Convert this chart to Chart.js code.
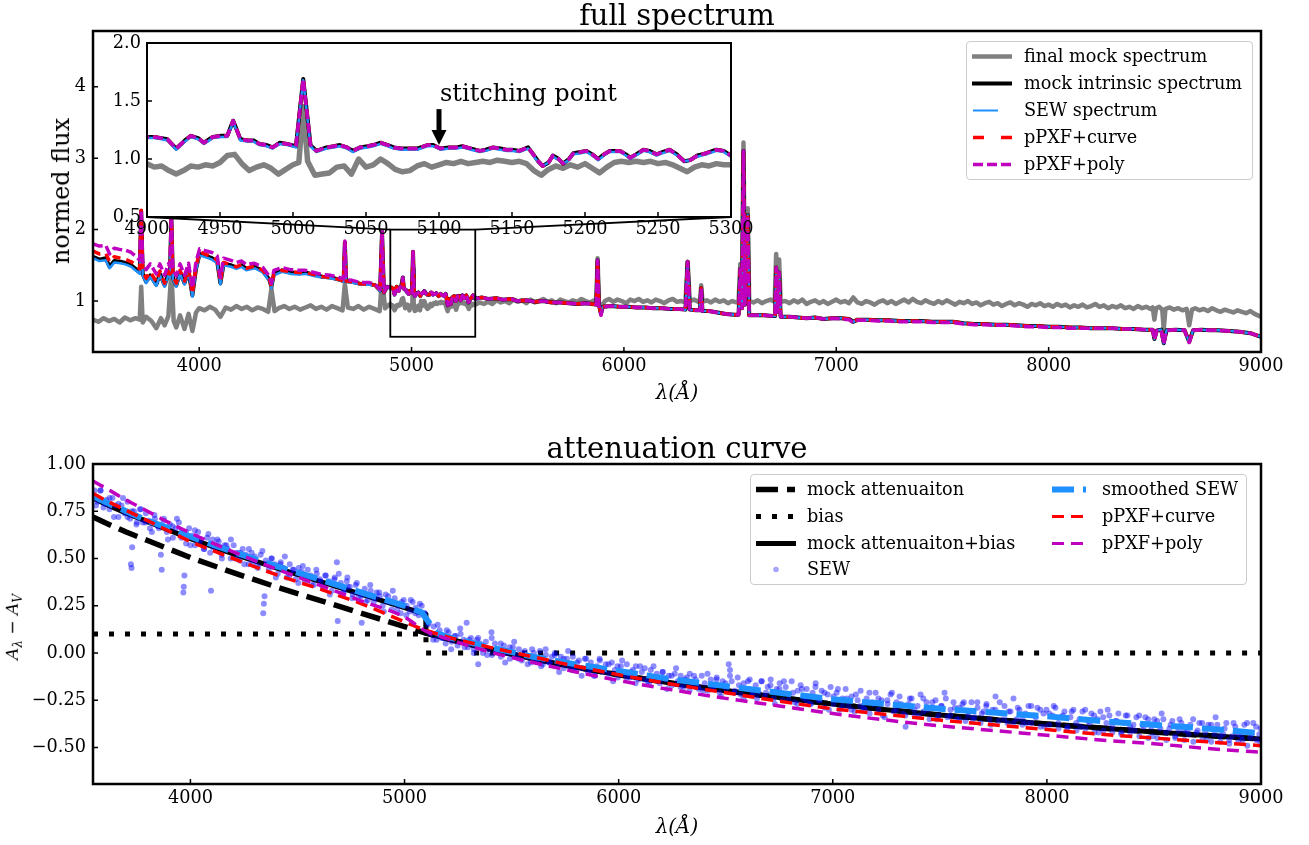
<!DOCTYPE html>
<html>
<head>
<meta charset="utf-8">
<script src="https://cdn.jsdelivr.net/npm/chart.js@4.4.1/dist/chart.umd.min.js"></script>
<style>
  body { margin: 0; background: #fff; }
  #page { position: relative; width: 1309px; height: 845px; overflow: hidden; font-family: 'DejaVu Serif', serif; color: #000; }
  canvas { position: absolute; }
  .txt { position: absolute; white-space: nowrap; }
  .legend { position: absolute; border: 1px solid #cccccc; border-radius: 4px; background: rgba(255,255,255,0.8); box-sizing: border-box; }
  .row { position: absolute; height: 27px; line-height: 27px; font-size: 17.7px; white-space: nowrap; }
  .row svg { position: absolute; top: 0; }
</style>
</head>
<body>
<div id="page">
  <canvas id="topChart" width="1309" height="410" style="left:0;top:0;width:1309px;height:410px"></canvas>
  <canvas id="insetChart" width="654" height="213" style="left:107px;top:33px;width:654px;height:213px"></canvas>
  <canvas id="bottomChart" width="1309" height="425" style="left:0;top:420px;width:1309px;height:425px"></canvas>

  <div class="txt" style="left:677px;top:-3px;font-size:29px;line-height:36px;transform:translateX(-50%)">full spectrum</div>
  <div class="txt" style="left:677px;top:430px;font-size:29px;line-height:36px;transform:translateX(-50%)">attenuation curve</div>
  <div class="txt" style="left:677px;top:380px;font-size:20px;line-height:24px;transform:translateX(-50%);font-style:italic">λ(Å)</div>
  <div class="txt" style="left:677px;top:814px;font-size:20px;line-height:24px;transform:translateX(-50%);font-style:italic">λ(Å)</div>
  <div class="txt" style="left:61px;top:191px;font-size:24px;line-height:28px;transform:translate(-50%,-50%) rotate(-90deg)">normed flux</div>
  <div class="txt" style="left:15px;top:627px;font-size:17px;line-height:20px;transform:translate(-50%,-50%) rotate(-90deg)"><i>A</i><sub style="font-size:12px"><i>λ</i></sub> − <i>A</i><sub style="font-size:12px"><i>V</i></sub></div>

  <div class="legend" style="left:966px;top:41px;width:287px;height:139px">
    <div class="row" style="left:0;top:1px;width:285px">
      <svg width="50" height="27" style="left:5px"><line x1="0" y1="13.5" x2="40" y2="13.5" stroke="#808080" stroke-width="4.5"/></svg>
      <span style="position:absolute;left:57px">final mock spectrum</span></div>
    <div class="row" style="left:0;top:28px;width:285px">
      <svg width="50" height="27" style="left:5px"><line x1="0" y1="13.5" x2="40" y2="13.5" stroke="#000" stroke-width="4"/></svg>
      <span style="position:absolute;left:57px">mock intrinsic spectrum</span></div>
    <div class="row" style="left:0;top:55px;width:285px">
      <svg width="50" height="27" style="left:5px"><line x1="1" y1="13.5" x2="26" y2="13.5" stroke="#1e90ff" stroke-width="2"/></svg>
      <span style="position:absolute;left:57px">SEW spectrum</span></div>
    <div class="row" style="left:0;top:82px;width:285px">
      <svg width="50" height="27" style="left:5px"><line x1="1" y1="13.5" x2="40" y2="13.5" stroke="#ff0000" stroke-width="3.5" stroke-dasharray="11,17"/></svg>
      <span style="position:absolute;left:57px">pPXF+curve</span></div>
    <div class="row" style="left:0;top:109px;width:285px">
      <svg width="50" height="27" style="left:5px"><line x1="1" y1="13.5" x2="40" y2="13.5" stroke="#bf00bf" stroke-width="3.5" stroke-dasharray="10,4"/></svg>
      <span style="position:absolute;left:57px">pPXF+poly</span></div>
  </div>

  <div class="legend" style="left:750px;top:474px;width:497px;height:111px">
    <div class="row" style="left:0;top:1px">
      <svg width="50" height="27" style="left:5px"><line x1="0" y1="13.5" x2="39" y2="13.5" stroke="#000" stroke-width="5.5" stroke-dasharray="22,9"/></svg>
      <span style="position:absolute;left:56px">mock attenuaiton</span></div>
    <div class="row" style="left:0;top:28px">
      <svg width="50" height="27" style="left:5px"><line x1="0" y1="13.5" x2="40" y2="13.5" stroke="#000" stroke-width="5" stroke-dasharray="5,11"/></svg>
      <span style="position:absolute;left:56px">bias</span></div>
    <div class="row" style="left:0;top:55px">
      <svg width="50" height="27" style="left:5px"><line x1="0" y1="13.5" x2="40" y2="13.5" stroke="#000" stroke-width="5"/></svg>
      <span style="position:absolute;left:56px">mock attenuaiton+bias</span></div>
    <div class="row" style="left:0;top:81px">
      <svg width="50" height="27" style="left:5px"><circle cx="20" cy="13.5" r="2.8" fill="rgba(0,0,255,0.35)"/></svg>
      <span style="position:absolute;left:56px">SEW</span></div>
    <div class="row" style="left:0;top:1px">
      <svg width="50" height="27" style="left:301px"><line x1="0" y1="13.5" x2="34" y2="13.5" stroke="#1e90ff" stroke-width="6" stroke-dasharray="22,9"/></svg>
      <span style="position:absolute;left:351px">smoothed SEW</span></div>
    <div class="row" style="left:0;top:28px">
      <svg width="50" height="27" style="left:301px"><line x1="0" y1="13.5" x2="34" y2="13.5" stroke="#ff0000" stroke-width="3" stroke-dasharray="12,7"/></svg>
      <span style="position:absolute;left:351px">pPXF+curve</span></div>
    <div class="row" style="left:0;top:55px">
      <svg width="50" height="27" style="left:301px"><line x1="0" y1="13.5" x2="34" y2="13.5" stroke="#bf00bf" stroke-width="3" stroke-dasharray="12,7"/></svg>
      <span style="position:absolute;left:351px">pPXF+poly</span></div>
  </div>
</div>

<script>
// ---------- full spectrum data (wavelength in Angstrom, normed flux) ----------
const fitWave = [
  3500, 3530, 3560, 3578, 3600, 3630, 3656, 3680, 3704, 3720,
  3727, 3734, 3750, 3770, 3798, 3815, 3837, 3855, 3862, 3869,
  3876, 3892, 3910, 3931, 3950, 3968, 3985, 4002, 4034, 4060,
  4085, 4100, 4115, 4150, 4175, 4200, 4222, 4260, 4300, 4330,
  4340, 4352, 4390, 4430, 4470, 4500, 4540, 4580, 4620, 4660,
  4680, 4686, 4692, 4720, 4760, 4800, 4830, 4852, 4861, 4870,
  4885, 4900, 4905, 4910, 4914, 4920, 4926, 4930, 4935, 4939,
  4945, 4951, 4955, 4959, 4964, 4969, 4973, 4977, 4982, 4986,
  4991, 4996, 5002, 5007, 5012, 5016, 5023, 5028, 5032, 5037,
  5041, 5046, 5051, 5055, 5060, 5065, 5069, 5074, 5078, 5085,
  5092, 5096, 5101, 5107, 5112, 5116, 5122, 5128, 5132, 5137,
  5142, 5146, 5150, 5155, 5161, 5164, 5168, 5171, 5175, 5178,
  5182, 5185, 5189, 5192, 5197, 5201, 5205, 5209, 5213, 5217,
  5221, 5224, 5228, 5231, 5235, 5240, 5244, 5249, 5253, 5258,
  5263, 5268, 5272, 5277, 5280, 5283, 5290, 5295, 5300, 5330,
  5360, 5400, 5430, 5470, 5500, 5540, 5580, 5620, 5660, 5700,
  5740, 5780, 5820, 5850, 5870, 5876, 5882, 5892, 5900, 5940,
  5980, 6020, 6060, 6100, 6140, 6180, 6220, 6260, 6290, 6300,
  6310, 6340, 6358, 6364, 6370, 6400, 6440, 6480, 6520, 6540,
  6548, 6556, 6563, 6570, 6583, 6590, 6620, 6660, 6700, 6712,
  6717, 6724, 6731, 6738, 6780, 6820, 6860, 6900, 6940, 6980,
  7020, 7060, 7080, 7100, 7150, 7200, 7250, 7300, 7350, 7400,
  7450, 7500, 7550, 7600, 7650, 7700, 7750, 7800, 7850, 7900,
  7950, 8000, 8050, 8100, 8150, 8200, 8250, 8300, 8350, 8400,
  8450, 8490, 8498, 8510, 8530, 8542, 8555, 8600, 8640, 8662,
  8680, 8720, 8760, 8800, 8850, 8900, 8950, 9000
];

const intrinsicFlux = [
  1.62, 1.58, 1.60, 1.48, 1.56, 1.55, 1.53, 1.50, 1.44, 1.40,
  2.26, 1.38, 1.27, 1.36, 1.23, 1.38, 1.22, 1.38, 1.35, 2.16,
  1.33, 1.22, 1.40, 1.25, 1.42, 1.08, 1.45, 1.66, 1.63, 1.60,
  1.55, 1.25, 1.52, 1.50, 1.47, 1.50, 1.45, 1.48, 1.42, 1.30,
  1.20, 1.38, 1.43, 1.40, 1.39, 1.40, 1.37, 1.34, 1.33, 1.30,
  1.28, 1.82, 1.28, 1.27, 1.24, 1.24, 1.22, 1.15, 1.97, 1.12,
  1.20, 1.19, 1.19, 1.18, 1.17, 1.09, 1.16, 1.20, 1.18, 1.14,
  1.19, 1.20, 1.20, 1.33, 1.17, 1.16, 1.16, 1.13, 1.12, 1.10,
  1.14, 1.13, 1.11, 1.69, 1.12, 1.07, 1.10, 1.11, 1.12, 1.10,
  1.07, 1.10, 1.11, 1.12, 1.14, 1.12, 1.10, 1.09, 1.09, 1.09,
  1.12, 1.12, 1.09, 1.10, 1.10, 1.11, 1.09, 1.07, 1.08, 1.10,
  1.09, 1.08, 1.08, 1.07, 1.10, 1.05, 0.98, 0.94, 0.97, 1.03,
  1.00, 0.96, 1.00, 1.05, 1.06, 1.07, 1.04, 1.00, 1.04, 1.07,
  1.07, 1.07, 1.04, 1.01, 1.04, 1.08, 1.07, 1.04, 1.06, 1.08,
  1.04, 0.98, 0.99, 1.03, 1.04, 1.05, 1.08, 1.07, 1.03, 1.05,
  1.03, 1.04, 1.02, 1.03, 1.00, 1.01, 0.99, 1.00, 0.98, 0.98,
  0.97, 0.96, 0.97, 0.96, 0.95, 1.57, 0.95, 0.82, 0.92, 0.93,
  0.92, 0.92, 0.91, 0.91, 0.90, 0.90, 0.89, 0.89, 0.88, 1.55,
  0.88, 0.87, 0.87, 1.18, 0.86, 0.86, 0.84, 0.82, 0.81, 0.81,
  1.45, 0.90, 3.10, 0.95, 2.20, 0.80, 0.80, 0.80, 0.79, 0.79,
  1.47, 0.85, 1.40, 0.78, 0.78, 0.77, 0.76, 0.77, 0.75, 0.76,
  0.76, 0.75, 0.71, 0.74, 0.74, 0.73, 0.73, 0.72, 0.72, 0.72,
  0.71, 0.71, 0.71, 0.69, 0.68, 0.68, 0.67, 0.67, 0.66, 0.65,
  0.65, 0.64, 0.64, 0.63, 0.63, 0.62, 0.62, 0.62, 0.61, 0.61,
  0.60, 0.60, 0.47, 0.59, 0.60, 0.41, 0.59, 0.60, 0.59, 0.43,
  0.59, 0.60, 0.59, 0.59, 0.58, 0.57, 0.55, 0.50
];

const sewFlux = [
  1.60, 1.56, 1.57, 1.46, 1.54, 1.53, 1.51, 1.48, 1.42, 1.38,
  2.25, 1.36, 1.25, 1.34, 1.21, 1.36, 1.20, 1.36, 1.33, 2.15,
  1.31, 1.20, 1.38, 1.23, 1.40, 1.06, 1.43, 1.64, 1.61, 1.58,
  1.53, 1.23, 1.50, 1.48, 1.45, 1.48, 1.43, 1.46, 1.40, 1.28,
  1.18, 1.36, 1.41, 1.38, 1.37, 1.38, 1.35, 1.33, 1.32, 1.29,
  1.27, 1.81, 1.27, 1.26, 1.23, 1.23, 1.21, 1.14, 1.96, 1.11,
  1.19, 1.18, 1.18, 1.17, 1.16, 1.08, 1.15, 1.19, 1.17, 1.13,
  1.18, 1.19, 1.19, 1.32, 1.16, 1.15, 1.15, 1.12, 1.11, 1.09,
  1.13, 1.12, 1.10, 1.68, 1.11, 1.06, 1.09, 1.10, 1.11, 1.09,
  1.06, 1.09, 1.10, 1.11, 1.13, 1.11, 1.09, 1.08, 1.08, 1.08,
  1.11, 1.11, 1.08, 1.09, 1.09, 1.10, 1.08, 1.06, 1.07, 1.09,
  1.08, 1.07, 1.07, 1.06, 1.09, 1.04, 0.97, 0.94, 0.97, 1.02,
  0.99, 0.96, 0.99, 1.04, 1.05, 1.06, 1.03, 0.99, 1.03, 1.06,
  1.06, 1.06, 1.03, 1.00, 1.03, 1.07, 1.06, 1.03, 1.05, 1.07,
  1.03, 0.98, 0.99, 1.02, 1.03, 1.04, 1.07, 1.06, 1.02, 1.04,
  1.03, 1.04, 1.02, 1.03, 1.00, 1.01, 0.99, 1.00, 0.98, 0.98,
  0.97, 0.96, 0.97, 0.96, 0.95, 1.57, 0.95, 0.82, 0.92, 0.93,
  0.92, 0.92, 0.91, 0.91, 0.90, 0.90, 0.89, 0.89, 0.88, 1.55,
  0.88, 0.87, 0.87, 1.18, 0.86, 0.86, 0.84, 0.82, 0.81, 0.81,
  1.45, 0.90, 3.10, 0.95, 2.20, 0.80, 0.80, 0.80, 0.79, 0.79,
  1.47, 0.85, 1.40, 0.78, 0.78, 0.77, 0.76, 0.77, 0.75, 0.76,
  0.76, 0.75, 0.71, 0.74, 0.74, 0.73, 0.73, 0.72, 0.72, 0.72,
  0.71, 0.71, 0.71, 0.69, 0.68, 0.68, 0.67, 0.67, 0.66, 0.65,
  0.65, 0.64, 0.64, 0.63, 0.63, 0.62, 0.62, 0.62, 0.61, 0.61,
  0.60, 0.60, 0.47, 0.59, 0.60, 0.41, 0.59, 0.60, 0.59, 0.43,
  0.59, 0.60, 0.59, 0.59, 0.58, 0.57, 0.55, 0.50
];

const curveFlux = [
  1.70, 1.66, 1.67, 1.55, 1.62, 1.60, 1.58, 1.55, 1.50, 1.45,
  2.27, 1.43, 1.32, 1.41, 1.27, 1.42, 1.25, 1.42, 1.38, 2.17,
  1.36, 1.25, 1.43, 1.28, 1.45, 1.10, 1.48, 1.69, 1.65, 1.62,
  1.57, 1.27, 1.54, 1.51, 1.48, 1.51, 1.46, 1.49, 1.43, 1.31,
  1.21, 1.39, 1.43, 1.41, 1.40, 1.40, 1.37, 1.34, 1.33, 1.30,
  1.28, 1.82, 1.28, 1.27, 1.24, 1.24, 1.22, 1.15, 1.97, 1.12,
  1.20, 1.19, 1.19, 1.18, 1.17, 1.09, 1.16, 1.20, 1.18, 1.14,
  1.19, 1.20, 1.20, 1.33, 1.17, 1.16, 1.16, 1.13, 1.12, 1.10,
  1.14, 1.13, 1.11, 1.69, 1.12, 1.07, 1.10, 1.11, 1.12, 1.10,
  1.07, 1.10, 1.11, 1.12, 1.14, 1.12, 1.10, 1.09, 1.09, 1.09,
  1.12, 1.12, 1.09, 1.10, 1.10, 1.11, 1.09, 1.07, 1.08, 1.10,
  1.09, 1.08, 1.08, 1.07, 1.10, 1.05, 0.98, 0.94, 0.97, 1.03,
  1.00, 0.96, 1.00, 1.05, 1.06, 1.07, 1.04, 1.00, 1.04, 1.07,
  1.07, 1.07, 1.04, 1.01, 1.04, 1.08, 1.07, 1.04, 1.06, 1.08,
  1.04, 0.98, 0.99, 1.03, 1.04, 1.05, 1.08, 1.07, 1.03, 1.05,
  1.03, 1.04, 1.02, 1.03, 1.00, 1.01, 0.99, 1.00, 0.98, 0.98,
  0.97, 0.96, 0.97, 0.96, 0.95, 1.57, 0.95, 0.82, 0.92, 0.93,
  0.92, 0.92, 0.91, 0.91, 0.90, 0.90, 0.89, 0.89, 0.88, 1.55,
  0.88, 0.87, 0.87, 1.18, 0.86, 0.86, 0.84, 0.82, 0.81, 0.81,
  1.45, 0.90, 3.10, 0.95, 2.20, 0.80, 0.80, 0.80, 0.79, 0.79,
  1.47, 0.85, 1.40, 0.78, 0.78, 0.77, 0.76, 0.77, 0.75, 0.76,
  0.76, 0.75, 0.71, 0.74, 0.74, 0.73, 0.73, 0.72, 0.72, 0.72,
  0.71, 0.71, 0.71, 0.69, 0.68, 0.68, 0.67, 0.67, 0.66, 0.65,
  0.65, 0.64, 0.64, 0.63, 0.63, 0.62, 0.62, 0.62, 0.61, 0.61,
  0.60, 0.60, 0.47, 0.59, 0.60, 0.41, 0.59, 0.60, 0.59, 0.43,
  0.59, 0.60, 0.59, 0.59, 0.58, 0.57, 0.55, 0.50
];

const polyFlux = [
  1.80, 1.77, 1.78, 1.66, 1.74, 1.72, 1.71, 1.68, 1.62, 1.57,
  2.28, 1.55, 1.44, 1.52, 1.38, 1.52, 1.36, 1.52, 1.48, 2.20,
  1.46, 1.35, 1.52, 1.36, 1.53, 1.18, 1.55, 1.73, 1.70, 1.68,
  1.63, 1.33, 1.60, 1.57, 1.54, 1.56, 1.51, 1.53, 1.47, 1.35,
  1.25, 1.43, 1.47, 1.44, 1.43, 1.43, 1.40, 1.37, 1.36, 1.33,
  1.31, 1.84, 1.30, 1.29, 1.26, 1.26, 1.23, 1.16, 1.98, 1.13,
  1.20, 1.19, 1.19, 1.18, 1.17, 1.09, 1.16, 1.20, 1.18, 1.14,
  1.19, 1.20, 1.20, 1.33, 1.17, 1.16, 1.16, 1.13, 1.12, 1.10,
  1.14, 1.13, 1.11, 1.69, 1.12, 1.07, 1.10, 1.11, 1.12, 1.10,
  1.07, 1.10, 1.11, 1.12, 1.14, 1.12, 1.10, 1.09, 1.09, 1.09,
  1.12, 1.12, 1.09, 1.10, 1.10, 1.11, 1.09, 1.07, 1.08, 1.10,
  1.09, 1.08, 1.08, 1.07, 1.10, 1.05, 0.98, 0.94, 0.97, 1.03,
  1.00, 0.96, 1.00, 1.05, 1.06, 1.07, 1.04, 1.00, 1.04, 1.07,
  1.07, 1.07, 1.04, 1.01, 1.04, 1.08, 1.07, 1.04, 1.06, 1.08,
  1.04, 0.98, 0.99, 1.03, 1.04, 1.05, 1.08, 1.07, 1.03, 1.05,
  1.03, 1.04, 1.02, 1.03, 1.00, 1.01, 0.99, 1.00, 0.98, 0.98,
  0.97, 0.96, 0.97, 0.96, 0.95, 1.57, 0.95, 0.80, 0.92, 0.93,
  0.92, 0.92, 0.91, 0.91, 0.90, 0.90, 0.89, 0.89, 0.88, 1.55,
  0.88, 0.87, 0.87, 1.18, 0.86, 0.86, 0.84, 0.82, 0.81, 0.81,
  1.45, 0.90, 3.10, 0.95, 2.20, 0.80, 0.80, 0.80, 0.79, 0.79,
  1.47, 0.85, 1.40, 0.78, 0.78, 0.77, 0.76, 0.77, 0.75, 0.76,
  0.75, 0.74, 0.70, 0.73, 0.73, 0.72, 0.72, 0.71, 0.71, 0.71,
  0.70, 0.70, 0.70, 0.68, 0.67, 0.67, 0.66, 0.66, 0.65, 0.64,
  0.64, 0.63, 0.63, 0.62, 0.62, 0.62, 0.62, 0.62, 0.61, 0.61,
  0.60, 0.60, 0.46, 0.59, 0.60, 0.40, 0.59, 0.60, 0.59, 0.42,
  0.59, 0.60, 0.59, 0.59, 0.58, 0.57, 0.55, 0.50
];

const mockWave = [
  3500, 3525, 3550, 3575, 3600, 3625, 3650, 3675, 3700, 3720,
  3727, 3734, 3750, 3775, 3798, 3820, 3837, 3855, 3869, 3880,
  3892, 3910, 3931, 3950, 3968, 3985, 4000, 4025, 4050, 4075,
  4100, 4125, 4150, 4175, 4200, 4225, 4250, 4275, 4300, 4325,
  4340, 4355, 4375, 4400, 4425, 4450, 4475, 4500, 4525, 4550,
  4575, 4600, 4625, 4650, 4675, 4686, 4700, 4725, 4750, 4775,
  4800, 4825, 4850, 4861, 4875, 4890, 4900, 4905, 4910, 4915,
  4920, 4925, 4930, 4935, 4940, 4945, 4950, 4955, 4960, 4965,
  4970, 4975, 4980, 4985, 4990, 4995, 5000, 5004, 5007, 5010,
  5015, 5020, 5025, 5030, 5035, 5040, 5045, 5050, 5055, 5060,
  5065, 5070, 5075, 5080, 5085, 5090, 5095, 5100, 5105, 5110,
  5115, 5120, 5125, 5130, 5135, 5140, 5145, 5150, 5155, 5160,
  5165, 5170, 5175, 5180, 5185, 5190, 5195, 5200, 5205, 5210,
  5215, 5220, 5225, 5230, 5235, 5240, 5245, 5250, 5255, 5260,
  5265, 5270, 5275, 5280, 5285, 5290, 5295, 5300, 5320, 5340,
  5360, 5380, 5400, 5420, 5440, 5460, 5480, 5500, 5520, 5540,
  5560, 5580, 5600, 5620, 5640, 5660, 5680, 5700, 5720, 5740,
  5760, 5780, 5800, 5820, 5840, 5860, 5870, 5876, 5882, 5892,
  5910, 5930, 5950, 5970, 5990, 6010, 6030, 6050, 6070, 6090,
  6110, 6130, 6150, 6170, 6190, 6210, 6230, 6250, 6270, 6290,
  6300, 6310, 6330, 6350, 6358, 6364, 6370, 6390, 6410, 6430,
  6450, 6470, 6490, 6510, 6530, 6540, 6548, 6556, 6563, 6570,
  6583, 6590, 6610, 6630, 6650, 6670, 6690, 6710, 6717, 6724,
  6731, 6738, 6760, 6780, 6800, 6820, 6840, 6860, 6880, 6900,
  6920, 6940, 6960, 6980, 7000, 7020, 7040, 7060, 7080, 7100,
  7120, 7140, 7160, 7180, 7200, 7220, 7240, 7260, 7280, 7300,
  7320, 7340, 7360, 7380, 7400, 7420, 7440, 7460, 7480, 7500,
  7520, 7540, 7560, 7580, 7600, 7620, 7640, 7660, 7680, 7700,
  7720, 7740, 7760, 7780, 7800, 7820, 7840, 7860, 7880, 7900,
  7920, 7940, 7960, 7980, 8000, 8020, 8040, 8060, 8080, 8100,
  8120, 8140, 8160, 8180, 8200, 8220, 8240, 8260, 8280, 8300,
  8320, 8340, 8360, 8380, 8400, 8420, 8440, 8460, 8480, 8490,
  8498, 8506, 8520, 8535, 8542, 8550, 8570, 8590, 8610, 8630,
  8650, 8662, 8675, 8690, 8710, 8730, 8750, 8770, 8790, 8810,
  8830, 8850, 8870, 8890, 8910, 8930, 8950, 8970, 8985, 9000
];

const mockFlux = [
  0.74, 0.71, 0.76, 0.72, 0.75, 0.70, 0.77, 0.73, 0.76, 0.74,
  1.20, 0.70, 0.78, 0.72, 0.62, 0.76, 0.66, 0.79, 1.40, 0.72,
  0.63, 0.80, 0.61, 0.82, 0.58, 0.84, 0.90, 0.87, 0.92, 0.88,
  0.78, 0.91, 0.88, 0.93, 0.89, 0.92, 0.87, 0.91, 0.89, 0.85,
  1.17, 0.86, 0.90, 0.93, 0.89, 0.92, 0.88, 0.91, 0.94, 0.89,
  0.92, 0.88, 0.93, 0.90, 0.87, 1.24, 0.91, 0.89, 0.93, 0.88,
  0.92, 0.89, 0.86, 1.35, 0.90, 0.94, 0.96, 0.93, 0.94, 0.90,
  0.87, 0.90, 0.94, 0.93, 0.95, 0.94, 0.97, 1.03, 1.04, 0.96,
  0.90, 0.93, 0.95, 0.92, 0.87, 0.91, 0.95, 0.97, 1.45, 0.98,
  0.86, 0.87, 0.88, 0.93, 0.94, 0.87, 1.00, 0.93, 0.95, 1.00,
  0.96, 0.91, 0.89, 0.90, 0.94, 0.96, 0.93, 0.95, 0.97, 0.96,
  0.98, 0.96, 0.97, 0.98, 0.97, 0.99, 0.98, 0.97, 0.98, 0.96,
  0.90, 0.86, 0.91, 0.94, 0.92, 0.95, 0.93, 0.96, 0.92, 0.88,
  0.93, 0.97, 0.98, 0.97, 0.98, 0.97, 0.98, 0.96, 0.97, 0.95,
  0.92, 0.89, 0.93, 0.95, 0.94, 0.96, 0.95, 0.95, 0.98, 0.96,
  0.99, 0.96, 1.01, 0.98, 1.00, 0.97, 1.02, 0.99, 1.01, 0.97,
  1.02, 0.98, 1.00, 1.03, 0.99, 1.01, 0.97, 1.02, 1.00, 0.98,
  1.01, 0.99, 1.03, 1.00, 0.98, 1.01, 1.00, 1.60, 0.99, 0.90,
  1.00, 1.03, 0.99, 1.02, 1.00, 0.97, 1.02, 1.00, 1.03, 0.99,
  1.01, 0.98, 1.02, 1.00, 0.97, 1.01, 1.03, 0.99, 1.00, 0.98,
  1.55, 1.00, 1.02, 0.99, 1.00, 1.22, 0.99, 1.01, 0.98, 1.02,
  0.99, 1.01, 0.97, 1.00, 0.98, 1.00, 1.52, 1.05, 3.22, 1.10,
  2.30, 1.00, 0.98, 1.01, 0.97, 1.00, 1.02, 0.99, 1.66, 1.05,
  1.58, 0.99, 1.00, 0.97, 1.01, 0.98, 1.02, 0.96, 0.99, 1.01,
  0.97, 1.00, 0.96, 0.99, 1.02, 0.98, 1.00, 0.97, 1.05, 0.98,
  0.96, 1.00, 0.98, 0.95, 0.99, 1.01, 0.97, 1.00, 0.96, 0.99,
  1.02, 0.98, 1.03, 0.99, 0.97, 1.01, 0.98, 0.96, 1.00, 0.97,
  1.01, 0.98, 0.95, 0.99, 0.97, 1.00, 0.96, 0.98, 0.94, 0.97,
  0.99, 0.95, 0.97, 0.93, 0.96, 0.98, 0.94, 0.97, 0.95, 0.92,
  0.96, 0.94, 0.97, 0.93, 0.95, 0.92, 0.96, 0.93, 0.95, 0.91,
  0.94, 0.92, 0.95, 0.91, 0.93, 0.96, 0.92, 0.94, 0.90, 0.93,
  0.91, 0.94, 0.90, 0.92, 0.89, 0.93, 0.90, 0.92, 0.89, 0.91,
  0.74, 0.90, 0.92, 0.88, 0.60, 0.89, 0.91, 0.88, 0.90, 0.87,
  0.89, 0.66, 0.88, 0.90, 0.87, 0.89, 0.86, 0.90, 0.87, 0.85,
  0.88, 0.86, 0.84, 0.87, 0.85, 0.83, 0.86, 0.82, 0.80, 0.78
];

const fullRange = [3500, 9000];
const fullFluxRange = [0.287, 4.78];
const fullXTicks = [4000, 5000, 6000, 7000, 8000, 9000];
const fullYTicks = [1, 2, 3, 4];

const insetRange = [4900, 5300];
const insetFluxRange = [0.5, 2.0];
const insetXTicks = [4900, 4950, 5000, 5050, 5100, 5150, 5200, 5250, 5300];
const insetYTicks = [0.5, 1.0, 1.5, 2.0];
const stitchWave = 5100;
const stitchArrow = [1.43, 1.12];   // tail, tip
const stitchLabelFlux = 1.50;

// ---------- attenuation curve data ----------
const attWave = [3545, 3600, 3700, 3800, 3900, 4000, 4200, 4400, 4600, 4800,
  5000, 5099, 5100, 5200, 5400, 5600, 5800, 6000, 6250, 6500,
  6750, 7000, 7250, 7500, 7750, 8000, 8250, 8500, 8750, 9000];
const mockAtt = [0.720, 0.690, 0.640, 0.595, 0.550, 0.505, 0.425, 0.350, 0.280, 0.210,
  0.140, 0.105, 0.105, 0.075, 0.020, -0.030, -0.075, -0.115, -0.160, -0.200,
  -0.235, -0.270, -0.300, -0.328, -0.352, -0.375, -0.397, -0.418, -0.437, -0.455];
const mockAttBias = [0.820, 0.790, 0.740, 0.695, 0.650, 0.605, 0.525, 0.450, 0.380, 0.310,
  0.240, 0.205, 0.105, 0.075, 0.020, -0.030, -0.075, -0.115, -0.160, -0.200,
  -0.235, -0.270, -0.300, -0.328, -0.352, -0.375, -0.397, -0.418, -0.437, -0.455];

const biasWave = [3545, 5100, 5100, 9000];
const biasValue = [0.1, 0.1, 0.0, 0.0];

const smoothWave = [3545, 3600, 3700, 3800, 3900, 4000, 4200, 4400, 4600, 4800,
  5000, 5080, 5150, 5200, 5400, 5600, 5800, 6000, 6250, 6500,
  6750, 7000, 7250, 7500, 7750, 8000, 8250, 8500, 8750, 9000];
const smoothSew = [0.830, 0.800, 0.750, 0.700, 0.660, 0.615, 0.535, 0.460, 0.390, 0.320,
  0.250, 0.215, 0.105, 0.085, 0.030, -0.020, -0.060, -0.095, -0.140, -0.175,
  -0.210, -0.245, -0.270, -0.295, -0.315, -0.335, -0.360, -0.380, -0.400, -0.425];

const fitAttWave = [3545, 3600, 3700, 3800, 3900, 4000, 4200, 4400, 4600, 4800,
  5000, 5100, 5200, 5400, 5600, 5800, 6000, 6250, 6500, 6750,
  7000, 7250, 7500, 7750, 8000, 8250, 8500, 8750, 9000];
const curveAtt = [0.845, 0.810, 0.755, 0.700, 0.645, 0.590, 0.500, 0.415, 0.340, 0.260,
  0.165, 0.120, 0.085, 0.030, -0.020, -0.070, -0.115, -0.165, -0.210, -0.255,
  -0.295, -0.325, -0.355, -0.380, -0.405, -0.430, -0.450, -0.470, -0.490];
const polyAtt = [0.910, 0.875, 0.810, 0.750, 0.690, 0.635, 0.535, 0.445, 0.360, 0.275,
  0.190, 0.115, 0.075, 0.005, -0.050, -0.100, -0.145, -0.195, -0.240, -0.280,
  -0.320, -0.355, -0.385, -0.410, -0.435, -0.460, -0.480, -0.505, -0.525];

// SEW measurements [wavelength, A_lambda - A_V]
const sewPoints = [
  [3552,.86],[3566,.80],[3580,.86],[3594,.77],[3608,.81],[3622,.76],[3636,.82],[3650,.78],[3664,.72],[3678,.78],
  [3692,.74],[3706,.80],[3718,.71],[3722,.47],[3725,.45],[3728,.56],[3736,.75],[3750,.69],[3764,.76],[3778,.69],
  [3792,.74],[3806,.70],[3820,.64],[3834,.71],[3848,.67],[3862,.52],[3866,.44],[3876,.71],[3890,.64],[3904,.68],
  [3918,.61],[3932,.66],[3946,.69],[3960,.62],[3967,.32],[3969,.35],[3972,.41],[3980,.58],[3994,.66],[4008,.62],
  [4022,.57],[4036,.64],[4050,.60],[4064,.55],[4078,.61],[4092,.53],[4096,.33],[4104,.60],[4118,.56],[4132,.59],
  [4146,.52],[4160,.57],[4174,.55],[4188,.50],[4202,.57],[4216,.53],[4230,.49],[4244,.55],[4258,.52],[4272,.47],
  [4286,.53],[4300,.51],[4314,.46],[4328,.52],[4340,.21],[4343,.26],[4346,.30],[4352,.49],[4366,.44],[4380,.50],
  [4394,.47],[4408,.42],[4422,.48],[4436,.45],[4450,.40],[4464,.47],[4478,.44],[4492,.39],[4506,.45],[4520,.43],
  [4534,.38],[4548,.44],[4562,.41],[4576,.36],[4590,.42],[4604,.39],[4618,.35],[4632,.41],[4646,.38],[4660,.33],
  [4674,.40],[4684,.48],[4688,.17],[4702,.37],[4716,.33],[4730,.38],[4733,.40],[4744,.35],[4758,.31],[4772,.36],
  [4786,.30],[4800,.16],[4814,.34],[4828,.28],[4842,.33],[4856,.27],[4870,.32],[4884,.30],[4898,.25],[4912,.31],
  [4926,.27],[4940,.23],[4954,.29],[4968,.26],[4982,.21],[4996,.28],[5010,.25],[5024,.22],[5038,.27],[5052,.24],
  [5066,.20],[5080,.25],[5094,.21],[5108,.15],[5122,.10],[5136,.14],[5150,.07],[5164,.12],[5178,.08],[5192,.05],
  [5206,.11],[5220,.06],[5234,.09],[5248,.04],[5262,.10],[5276,.07],[5290,.16],[5296,.03],[5310,.08],[5324,.02],
  [5338,.07],[5344,-.06],[5352,.05],[5366,.00],[5380,.06],[5394,.02],[5406,.11],[5408,-.01],[5422,.05],[5436,.01],
  [5450,-.02],[5464,.04],[5478,.00],[5492,-.03],[5506,.03],[5520,-.01],[5534,.02],[5548,-.04],[5562,.01],[5576,-.02],
  [5590,-.05],[5604,.00],[5618,-.04],[5632,.01],[5646,-.06],[5660,-.01],[5674,-.05],[5688,-.02],[5702,.00],[5716,-.06],
  [5730,-.02],[5744,-.08],[5758,-.03],[5772,-.07],[5786,-.02],[5800,-.09],[5814,-.04],[5828,-.08],[5842,-.03],[5856,-.10],
  [5870,-.05],[5884,-.12],[5898,-.07],[5912,-.04],[5926,-.10],[5940,-.06],[5954,-.11],[5968,-.05],[5982,-.09],[5996,-.13],
  [6010,-.07],[6024,-.11],[6038,-.06],[6052,-.13],[6066,-.09],[6080,-.07],[6094,-.14],[6108,-.10],[6122,-.08],[6136,-.15],
  [6150,-.09],[6164,-.13],[6178,-.11],[6192,-.16],[6206,-.10],[6220,-.14],[6234,-.12],[6248,-.17],[6262,-.11],[6276,-.15],
  [6290,-.12],[6304,-.18],[6318,-.13],[6332,-.11],[6346,-.17],[6360,-.14],[6374,-.19],[6388,-.12],[6402,-.16],[6416,-.20],
  [6430,-.14],[6444,-.18],[6458,-.13],[6472,-.21],[6486,-.15],[6500,-.19],[6514,-.06],[6520,-.09],[6528,-.15],[6542,-.20],
  [6556,-.13],[6570,-.22],[6584,-.16],[6598,-.19],[6612,-.14],[6626,-.22],[6640,-.17],[6654,-.21],[6668,-.15],[6682,-.23],
  [6696,-.18],[6710,-.14],[6724,-.24],[6738,-.19],[6752,-.16],[6766,-.25],[6780,-.18],[6794,-.22],[6808,-.15],[6822,-.26],
  [6836,-.20],[6850,-.17],[6864,-.24],[6878,-.19],[6892,-.27],[6906,-.21],[6920,-.16],[6934,-.25],[6948,-.20],[6962,-.29],
  [6976,-.22],[6990,-.18],[7004,-.27],[7018,-.21],[7032,-.30],[7046,-.24],[7060,-.19],[7074,-.28],[7088,-.23],[7102,-.31],
  [7116,-.25],[7130,-.20],[7144,-.29],[7158,-.24],[7172,-.32],[7186,-.26],[7200,-.21],[7214,-.30],[7228,-.25],[7242,-.34],
  [7256,-.27],[7270,-.22],[7284,-.31],[7298,-.26],[7312,-.23],[7326,-.32],[7340,-.39],[7354,-.27],[7368,-.24],[7382,-.33],
  [7396,-.28],[7410,-.22],[7424,-.31],[7438,-.26],[7452,-.35],[7466,-.29],[7480,-.25],[7494,-.33],[7508,-.28],[7522,-.21],
  [7536,-.34],[7550,-.30],[7564,-.26],[7578,-.35],[7592,-.29],[7606,-.27],[7620,-.36],[7634,-.31],[7648,-.26],[7662,-.34],
  [7676,-.29],[7690,-.37],[7704,-.31],[7718,-.27],[7732,-.35],[7746,-.30],[7760,-.23],[7774,-.36],[7788,-.32],[7802,-.28],
  [7816,-.37],[7830,-.31],[7844,-.24],[7858,-.35],[7872,-.30],[7886,-.38],[7900,-.32],[7914,-.28],[7928,-.37],[7942,-.33],
  [7956,-.29],[7970,-.39],[7984,-.32],[7998,-.30],[8012,-.38],[8026,-.33],[8040,-.29],[8054,-.40],[8068,-.34],[8082,-.31],
  [8096,-.39],[8110,-.34],[8124,-.30],[8138,-.41],[8152,-.35],[8166,-.31],[8180,-.40],[8194,-.36],[8208,-.32],[8222,-.42],
  [8236,-.35],[8250,-.31],[8264,-.41],[8278,-.37],[8292,-.33],[8306,-.42],[8320,-.36],[8334,-.32],[8348,-.43],[8362,-.37],
  [8376,-.33],[8390,-.42],[8404,-.38],[8418,-.34],[8432,-.44],[8446,-.38],[8460,-.34],[8474,-.45],[8488,-.39],[8502,-.35],
  [8516,-.45],[8530,-.40],[8544,-.35],[8558,-.46],[8572,-.40],[8586,-.36],[8600,-.45],[8614,-.41],[8628,-.37],[8642,-.46],
  [8656,-.41],[8670,-.38],[8684,-.47],[8698,-.42],[8712,-.37],[8726,-.46],[8740,-.42],[8754,-.38],[8768,-.47],[8782,-.43],
  [8796,-.38],[8810,-.47],[8824,-.43],[8838,-.37],[8852,-.48],[8866,-.44],[8880,-.39],[8894,-.47],[8908,-.44],[8922,-.38],
  [8936,-.49],[8950,-.45],[8964,-.37],[8978,-.46],[8992,-.43],[8998,-.40],
  [3559,.78],[3580,.86],[3601,.79],[3622,.82],[3643,.72],[3664,.79],[3685,.82],[3706,.72],[3727,.75],[3748,.68],
  [3769,.76],[3790,.69],[3811,.66],[3832,.73],[3853,.66],[3874,.70],[3895,.60],[3916,.67],[3937,.71],[3958,.61],
  [3979,.64],[4000,.57],[4021,.65],[4042,.58],[4063,.55],[4084,.63],[4105,.56],[4126,.60],[4147,.50],[4168,.57],
  [4189,.60],[4210,.50],[4231,.53],[4252,.47],[4273,.55],[4294,.48],[4315,.45],[4336,.54],[4357,.47],[4378,.50],
  [4399,.40],[4420,.47],[4441,.51],[4462,.41],[4483,.44],[4504,.37],[4525,.46],[4546,.39],[4567,.36],[4588,.44],
  [4609,.38],[4630,.41],[4651,.31],[4672,.39],[4693,.42],[4714,.32],[4735,.35],[4756,.29],[4777,.37],[4798,.30],
  [4819,.27],[4840,.36],[4861,.29],[4882,.32],[4903,.22],[4924,.30],[4945,.33],[4966,.23],[4987,.27],[5008,.20],
  [5029,.28],[5050,.21],[5071,.26],[5092,.21],[5113,.16],[5134,.07],[5155,.15],[5176,.08],[5197,.12],[5218,.02],
  [5239,.09],[5260,.13],[5281,.03],[5302,.07],[5323,.00],[5344,.08],[5365,.02],[5386,-.01],[5407,.08],[5428,.01],
  [5449,.05],[5470,-.05],[5491,.03],[5512,.06],[5533,-.03],[5554,.00],[5575,-.06],[5596,.02],[5617,-.04],[5638,-.07],
  [5659,.02],[5680,-.05],[5701,-.01],[5722,-.10],[5743,-.03],[5764,.01],[5785,-.09],[5806,-.05],[5827,-.12],[5848,-.03],
  [5869,-.09],[5890,-.12],[5911,-.03],[5932,-.09],[5953,-.06],[5974,-.15],[5995,-.07],[6016,-.04],[6037,-.13],[6058,-.10],
  [6079,-.16],[6100,-.07],[6121,-.14],[6142,-.16],[6163,-.07],[6184,-.14],[6205,-.10],[6226,-.19],[6247,-.12],[6268,-.08],
  [6289,-.18],[6310,-.14],[6331,-.20],[6352,-.12],[6373,-.18],[6394,-.20],[6415,-.11],[6436,-.18],[6457,-.14],[6478,-.23],
  [6499,-.16],[6520,-.12],[6541,-.21],[6562,-.17],[6583,-.24],[6604,-.15],[6625,-.21],[6646,-.24],[6667,-.15],[6688,-.21],
  [6709,-.17],[6730,-.27],[6751,-.19],[6772,-.15],[6793,-.25],[6814,-.21],[6835,-.27],[6856,-.19],[6877,-.25],[6898,-.27],
  [6919,-.18],[6940,-.25],[6961,-.21],[6982,-.30],[7003,-.23],[7024,-.19],[7045,-.28],[7066,-.24],[7087,-.30],[7108,-.22],
  [7129,-.28],[7150,-.30],[7171,-.21],[7192,-.27],[7213,-.24],[7234,-.33],[7255,-.25],[7276,-.21],[7297,-.30],[7318,-.27],
  [7339,-.33],[7360,-.24],[7381,-.30],[7402,-.33],[7423,-.24],[7444,-.30],[7465,-.26],[7486,-.35],[7507,-.28],[7528,-.24],
  [7549,-.33],[7570,-.29],[7591,-.35],[7612,-.26],[7633,-.33],[7654,-.35],[7675,-.26],[7696,-.32],[7717,-.28],[7738,-.38],
  [7759,-.30],[7780,-.26],[7801,-.35],[7822,-.31],[7843,-.37],[7864,-.29],[7885,-.35],[7906,-.37],[7927,-.28],[7948,-.34],
  [7969,-.30],[7990,-.39],[8011,-.32],[8032,-.28],[8053,-.37],[8074,-.33],[8095,-.40],[8116,-.31],[8137,-.37],[8158,-.39],
  [8179,-.30],[8200,-.37],[8221,-.33],[8242,-.42],[8263,-.34],[8284,-.30],[8305,-.39],[8326,-.36],[8347,-.42],[8368,-.33],
  [8389,-.39],[8410,-.41],[8431,-.33],[8452,-.39],[8473,-.35],[8494,-.44],[8515,-.36],[8536,-.32],[8557,-.42],[8578,-.38],
  [8599,-.44],[8620,-.35],[8641,-.41],[8662,-.43],[8683,-.35],[8704,-.41],[8725,-.37],[8746,-.46],[8767,-.38],[8788,-.34],
  [8809,-.44],[8830,-.40],[8851,-.46],[8872,-.37],[8893,-.43],[8914,-.46],[8935,-.37],[8956,-.43],[8977,-.39],[8996,-.47]
];

const attRange = [3545, 9000];
const attValueRange = [-0.693, 1.0];
const attXTicks = [4000, 5000, 6000, 7000, 8000, 9000];
const attYTicks = [-0.5, -0.25, 0, 0.25, 0.5, 0.75, 1.0];

// ---------- helpers ----------
Chart.defaults.font.family = "'DejaVu Serif', serif";
Chart.defaults.font.size = 17.7;
Chart.defaults.color = '#000';

function xy(ws, vs) { return ws.map((w, i) => ({ x: w, y: vs[i] })); }

function fixedAxis(size, isX) {
  return function (s) {
    if (isX) s.height = size; else s.width = size;
    s.paddingLeft = 0; s.paddingRight = 0; s.paddingTop = 0; s.paddingBottom = 0;
  };
}

function setTicks(values) {
  return function (s) { s.ticks = values.map(v => ({ value: v })); };
}

// frame around the axes plus matplotlib style inward ticks
const axisFrame = {
  id: 'axisFrame',
  afterDatasetsDraw(chart, args, opts) {
    const { ctx, chartArea: a, scales: { x, y } } = chart;
    ctx.save();
    ctx.strokeStyle = '#000';
    ctx.lineWidth = 1.5;
    ctx.beginPath();
    x.ticks.forEach(t => {
      const px = x.getPixelForValue(t.value);
      ctx.moveTo(px, a.bottom); ctx.lineTo(px, a.bottom - opts.tick);
    });
    y.ticks.forEach(t => {
      const py = y.getPixelForValue(t.value);
      ctx.moveTo(a.left, py); ctx.lineTo(a.left + opts.tick, py);
    });
    ctx.stroke();
    ctx.lineWidth = opts.width;
    ctx.strokeRect(a.left, a.top, a.right - a.left, a.bottom - a.top);
    ctx.restore();
  }
};

function baseOptions(o) {
  return {
    responsive: false,
    animation: false,
    devicePixelRatio: 1,
    layout: { padding: o.padding, autoPadding: false },
    elements: { point: { radius: 0 }, line: { tension: 0, borderJoinStyle: 'round' } },
    plugins: {
      legend: { display: false },
      tooltip: { enabled: false },
      axisFrame: { tick: 5, width: o.frame }
    },
    scales: {
      x: {
        type: 'linear', min: o.xRange[0], max: o.xRange[1],
        grid: { display: false, drawTicks: false },
        border: { display: false },
        ticks: { padding: o.xPad, maxRotation: 0, autoSkip: false, callback: o.xFmt },
        afterBuildTicks: setTicks(o.xTicks),
        afterFit: fixedAxis(o.xHeight, true)
      },
      y: {
        type: 'linear', min: o.yRange[0], max: o.yRange[1],
        grid: { display: false, drawTicks: false },
        border: { display: false },
        ticks: { padding: o.yPad, autoSkip: false, callback: o.yFmt },
        afterBuildTicks: setTicks(o.yTicks),
        afterFit: fixedAxis(o.yWidth, false)
      }
    }
  };
}

function spectrumSets(width) {
  return [
    { label: 'pPXF+poly', data: xy(fitWave, polyFlux), borderColor: '#bf00bf', borderWidth: 3.5, borderDash: [10, 4], order: 1 },
    { label: 'pPXF+curve', data: xy(fitWave, curveFlux), borderColor: '#ff0000', borderWidth: 3.5, borderDash: [8, 6], order: 2 },
    { label: 'SEW spectrum', data: xy(fitWave, sewFlux), borderColor: '#1e90ff', borderWidth: 2.5, order: 3 },
    { label: 'mock intrinsic spectrum', data: xy(fitWave, intrinsicFlux), borderColor: '#000', borderWidth: 4, order: 4 },
    { label: 'final mock spectrum', data: xy(mockWave, mockFlux), borderColor: '#808080', borderWidth: width, order: 5 }
  ];
}

const intFmt = v => String(v);

// ---------- inset (zoom on the stitching point) ----------
const insetOpts = baseOptions({
  padding: { left: 0, top: 10, right: 30, bottom: 0 },
  frame: 2, xRange: insetRange, yRange: insetFluxRange,
  xTicks: insetXTicks, yTicks: insetYTicks, xPad: 2, yPad: 6,
  xHeight: 29, yWidth: 40, xFmt: intFmt, yFmt: v => v.toFixed(1)
});

const insetCanvas = document.getElementById('insetChart');
const insetChart = new Chart(insetCanvas, {
  type: 'line',
  data: { datasets: spectrumSets(5.5) },
  options: insetOpts,
  plugins: [axisFrame, {
    id: 'insetBackground',
    beforeDatasetsDraw(chart) {
      const { ctx, chartArea: a } = chart;
      ctx.save();
      ctx.fillStyle = '#fff';
      ctx.fillRect(a.left, a.top, a.right - a.left, a.bottom - a.top);
      ctx.restore();
    }
  }, {
    id: 'stitchNote',
    afterDatasetsDraw(chart) {
      const { ctx, scales: { x, y } } = chart;
      const px = x.getPixelForValue(stitchWave);
      const tail = y.getPixelForValue(stitchArrow[0]);
      const tip = y.getPixelForValue(stitchArrow[1]);
      ctx.save();
      ctx.fillStyle = '#000';
      ctx.fillRect(px - 2.5, tail, 5, tip - 15 - tail);
      ctx.beginPath();
      ctx.moveTo(px - 7.5, tip - 15);
      ctx.lineTo(px + 7.5, tip - 15);
      ctx.lineTo(px, tip);
      ctx.closePath();
      ctx.fill();
      ctx.font = "24px 'DejaVu Serif', serif";
      ctx.textBaseline = 'alphabetic';
      ctx.fillText('stitching point', px + 1, y.getPixelForValue(stitchLabelFlux));
      ctx.restore();
    }
  }]
});

// ---------- full spectrum ----------
const topOpts = baseOptions({
  padding: { left: 0, top: 31, right: 48, bottom: 0 },
  frame: 2.5, xRange: fullRange, yRange: fullFluxRange,
  xTicks: fullXTicks, yTicks: fullYTicks, xPad: 4, yPad: 7,
  xHeight: 58, yWidth: 93, xFmt: intFmt, yFmt: intFmt
});

new Chart(document.getElementById('topChart'), {
  type: 'line',
  data: { datasets: spectrumSets(4.5) },
  options: topOpts,
  plugins: [axisFrame, {
    id: 'zoomMarks',
    afterDatasetsDraw(chart) {
      const { ctx, scales: { x, y } } = chart;
      const l = x.getPixelForValue(insetRange[0]), r = x.getPixelForValue(insetRange[1]);
      const t = y.getPixelForValue(insetFluxRange[1]), b = y.getPixelForValue(insetFluxRange[0]);
      const ia = insetChart.chartArea;
      const ox = insetCanvas.offsetLeft, oy = insetCanvas.offsetTop;
      ctx.save();
      ctx.strokeStyle = '#000';
      ctx.lineWidth = 1.8;
      ctx.strokeRect(l, t, r - l, b - t);
      ctx.beginPath();
      ctx.moveTo(ox + ia.left, oy + ia.bottom); ctx.lineTo(l, t);
      ctx.moveTo(ox + ia.right, oy + ia.bottom); ctx.lineTo(r, t);
      ctx.stroke();
      ctx.restore();
    }
  }]
});

// ---------- attenuation curve ----------
const botOpts = baseOptions({
  padding: { left: 0, top: 44, right: 48, bottom: 0 },
  frame: 2.5, xRange: attRange, yRange: attValueRange,
  xTicks: attXTicks, yTicks: attYTicks, xPad: 4, yPad: 7,
  xHeight: 61, yWidth: 93, xFmt: intFmt,
  yFmt: v => v.toFixed(2).replace('-', '\u2212')
});

new Chart(document.getElementById('bottomChart'), {
  type: 'line',
  data: {
    datasets: [
      { label: 'pPXF+poly', data: xy(fitAttWave, polyAtt), borderColor: '#bf00bf', borderWidth: 3.5, borderDash: [12, 7], cubicInterpolationMode: 'monotone', order: 1 },
      { label: 'pPXF+curve', data: xy(fitAttWave, curveAtt), borderColor: '#ff0000', borderWidth: 3.5, borderDash: [12, 7], cubicInterpolationMode: 'monotone', order: 2 },
      { label: 'smoothed SEW', data: xy(smoothWave, smoothSew), borderColor: '#1e90ff', borderWidth: 6, borderDash: [22, 9], order: 3 },
      { label: 'SEW', data: sewPoints.map(p => ({ x: p[0], y: p[1] })), showLine: false,
        pointRadius: 3, pointBorderWidth: 0, pointBackgroundColor: 'rgba(0,0,255,0.45)', order: 4 },
      { label: 'mock attenuaiton+bias', data: xy(attWave, mockAttBias), borderColor: '#000', borderWidth: 5, order: 5 },
      { label: 'bias', data: xy(biasWave, biasValue), borderColor: '#000', borderWidth: 5, borderDash: [5, 11], order: 6 },
      { label: 'mock attenuaiton', data: xy(attWave, mockAtt), borderColor: '#000', borderWidth: 5.5, borderDash: [20, 8.5], order: 7 }
    ]
  },
  options: botOpts,
  plugins: [axisFrame]
});
</script>
</body>
</html>
